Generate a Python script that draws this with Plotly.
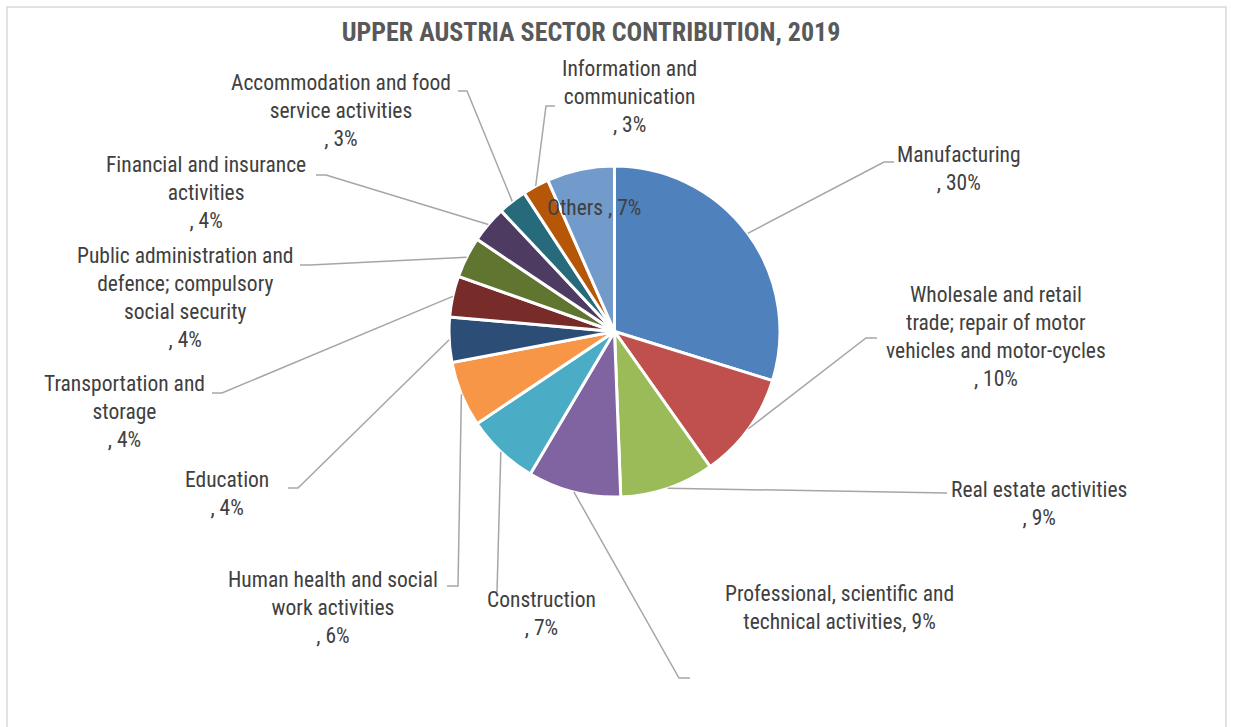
import math
import plotly.graph_objects as go

# ---------------- data ----------------
sectors = [
    "Manufacturing",
    "Wholesale and retail trade; repair of motor vehicles and motor-cycles",
    "Real estate activities",
    "Professional, scientific and technical activities",
    "Construction",
    "Human health and social work activities",
    "Education",
    "Transportation and storage",
    "Public administration and defence; compulsory social security",
    "Financial and insurance activities",
    "Accommodation and food service activities",
    "Information and communication",
    "Others",
]
shares = [29.8, 10.4, 9.2, 9.1, 7.1, 6.4, 4.4, 4.0, 4.0, 3.6, 2.8, 2.6, 6.6]
# label text as wrapped in the chart (without the percentage)
label_lines = [
    ["Manufacturing"],
    ["Wholesale and retail", "trade; repair of motor", "vehicles and motor-cycles"],
    ["Real estate activities"],
    ["Professional, scientific and", "technical activities"],
    ["Construction"],
    ["Human health and social", "work activities"],
    ["Education"],
    ["Transportation and", "storage"],
    ["Public administration and", "defence; compulsory", "social security"],
    ["Financial and insurance", "activities"],
    ["Accommodation and food", "service activities"],
    ["Information and", "communication"],
    ["Others"],
]
colors = ["#4F81BD", "#C0504D", "#9BBB59", "#8064A2", "#4BACC6", "#F79646",
          "#2C4D75", "#772C2A", "#5F7530", "#4D3B62", "#276A7C", "#B65708",
          "#729ACA"]

# ---------------- layout (pixel positions) ----------------
W, H = 1233, 727
CX, CY, R = 614.5, 331.5, 165.5
# label centre (x, y) and leader elbow/end points in pixels
label_pos = [
    (959, 168), (996, 337), (1039, 503), (840, 607), (541, 613), (333, 607),
    (227, 493), (124, 411), (185, 297), (206, 192), (341, 110), (629, 97),
    (594, 207),
]
leader = [
    ((884, 162), (894, 162)),
    ((866, 338), (877, 338)),
    ((947, 493), (947, 493)),
    ((679, 678), (690, 678)),
    ((497, 592), (497, 592)),
    ((458, 586), (447, 586)),
    ((298, 488), (288, 488)),
    ((222, 393), (212, 393)),
    ((310, 265), (300, 265)),
    ((326, 175), (316, 175)),
    ((467, 91), (458, 91)),
    ((546, 106), (555, 106)),
    None,
]
inside = [False] * 12 + [True]
# percentage on the same line as the last text line
pct_inline = [False, False, False, True, False, False, False, False, False,
              False, False, False, True]

FONT = "Liberation Sans Narrow, Arial Narrow, Roboto Condensed, DejaVu Sans Condensed, sans-serif"
TXT = "#404040"


def px(x):
    return x / W


def py(y):
    return 1 - y / H


fig = go.Figure()
fig.add_trace(go.Pie(
    values=shares,
    labels=sectors,
    sort=False,
    direction="clockwise",
    rotation=0,
    marker=dict(colors=colors, line=dict(color="white", width=3)),
    textinfo="none",
    hoverinfo="label+percent",
    showlegend=False,
    domain=dict(x=[px(CX - R), px(CX + R)], y=[py(CY + R), py(CY - R)]),
))

total = sum(shares)
shapes = []
annotations = []
cum = 0.0
for i, v in enumerate(shares):
    frac = v / total
    mid = (cum + frac / 2) * 2 * math.pi
    cum += frac
    pct = f"{round(frac * 100):d}%"
    lines = list(label_lines[i])
    if pct_inline[i]:
        lines[-1] = lines[-1] + (" , " if inside[i] else ", ") + pct
    else:
        lines.append(", " + pct)
    lx, ly = label_pos[i]
    annotations.append(dict(
        x=px(lx), y=py(ly), xref="paper", yref="paper",
        text="<br>".join(lines), showarrow=False, align="center",
        xanchor="center", yanchor="middle",
        font=dict(family=FONT, size=21.5, color=TXT),
    ))
    if leader[i] is not None:
        sx = CX + 1.0 * R * math.sin(mid)
        sy = CY - 1.0 * R * math.cos(mid)
        (ex, ey), (fx, fy) = leader[i]
        path = f"M {px(sx)},{py(sy)} L {px(ex)},{py(ey)} L {px(fx)},{py(fy)}"
        shapes.append(dict(type="path", xref="paper", yref="paper", path=path,
                           line=dict(color="#A6A6A6", width=1.5)))

# outer chart frame
shapes.append(dict(type="rect", xref="paper", yref="paper",
                   x0=px(7), x1=px(1226), y0=py(740), y1=py(7),
                   line=dict(color="#D9D9D9", width=1.5)))

fig.update_layout(
    width=W, height=H,
    margin=dict(l=0, r=0, t=0, b=0),
    paper_bgcolor="white",
    plot_bgcolor="white",
    title=dict(text="<b>UPPER AUSTRIA SECTOR CONTRIBUTION, 2019</b>",
               x=px(591), y=py(32), xanchor="center", yanchor="middle",
               font=dict(family=FONT, size=26, color="#595959")),
    shapes=shapes,
    annotations=annotations,
)

fig.write_html("out.html",
               config={"displayModeBar": False},
               post_script="document.body.style.margin='0';document.body.style.overflow='hidden';")
